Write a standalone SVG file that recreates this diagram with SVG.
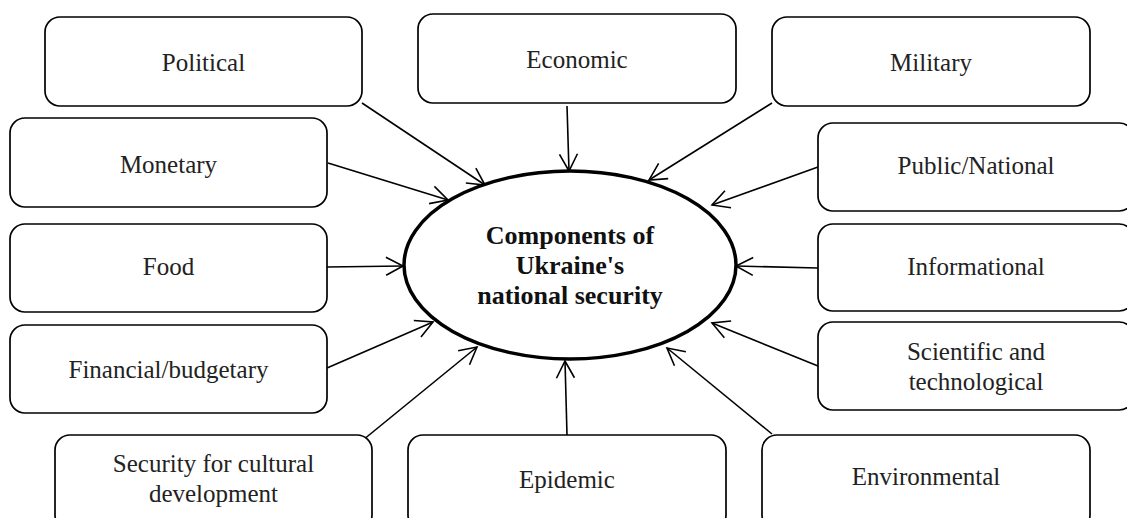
<svg xmlns="http://www.w3.org/2000/svg" width="1127" height="518" viewBox="0 0 1127 518">
<style>
.box{fill:#fff;stroke:#000;stroke-width:1.7}
.lbl{font-size:25px;fill:#222;text-anchor:middle}
.title{font-size:26px;font-weight:bold;fill:#111;text-anchor:middle}
.con{fill:none;stroke:#000;stroke-width:1.6;marker-end:url(#arr)}
</style>
<defs>
<marker id="arr" markerUnits="userSpaceOnUse" markerWidth="24" markerHeight="24" viewBox="-20 -12 24 24" refX="0" refY="0" orient="auto">
<path d="M-17,-9 L0,0 L-17,9" fill="none" stroke="#000" stroke-width="1.6"/>
</marker>
</defs>
<rect width="1127" height="518" fill="#fff"/>
<g id="connectors">
<line class="con" x1="362" y1="103" x2="485" y2="185"/>
<line class="con" x1="567" y1="106" x2="569" y2="171"/>
<line class="con" x1="772" y1="103" x2="649" y2="180"/>
<line class="con" x1="328" y1="163" x2="448" y2="200"/>
<line class="con" x1="818" y1="167" x2="712" y2="205"/>
<line class="con" x1="327" y1="267" x2="403" y2="266"/>
<line class="con" x1="818" y1="268" x2="736" y2="266"/>
<line class="con" x1="327" y1="368" x2="433" y2="322"/>
<line class="con" x1="818" y1="366" x2="712" y2="323"/>
<line class="con" x1="363" y1="440" x2="477" y2="347"/>
<line class="con" x1="567" y1="435" x2="565" y2="361"/>
<line class="con" x1="772" y1="434" x2="667" y2="348"/>
</g>
<g font-family="'Liberation Serif', 'DejaVu Serif', serif">
<g id="center">
<ellipse cx="570" cy="265" rx="166" ry="94" fill="#fff" stroke="#000" stroke-width="3.5"/>
<text class="title" x="570" y="244">Components of</text>
<text class="title" x="570" y="274">Ukraine's</text>
<text class="title" x="570" y="304">national security</text>
</g>
<g id="political"><rect class="box" x="45" y="17" width="317" height="89" rx="15"/><text class="lbl" x="203.5" y="71">Political</text></g>
<g id="economic"><rect class="box" x="418" y="14" width="318" height="89" rx="15"/><text class="lbl" x="577" y="68">Economic</text></g>
<g id="military"><rect class="box" x="772" y="17" width="318" height="89" rx="15"/><text class="lbl" x="931" y="71">Military</text></g>
<g id="monetary"><rect class="box" x="10" y="118" width="317" height="89" rx="15"/><text class="lbl" x="168.5" y="172.5">Monetary</text></g>
<g id="public"><rect class="box" x="818" y="123" width="316" height="88" rx="15"/><text class="lbl" x="976" y="173.5">Public/National</text></g>
<g id="food"><rect class="box" x="10" y="224" width="317" height="88" rx="15"/><text class="lbl" x="168.5" y="275">Food</text></g>
<g id="informational"><rect class="box" x="818" y="224" width="316" height="87" rx="15"/><text class="lbl" x="976" y="275">Informational</text></g>
<g id="financial"><rect class="box" x="10" y="325" width="317" height="88" rx="15"/><text class="lbl" x="168.5" y="377.5">Financial/budgetary</text></g>
<g id="scientific"><rect class="box" x="818" y="322" width="316" height="88" rx="15"/><text class="lbl" x="976" y="360">Scientific and</text><text class="lbl" x="976" y="390">technological</text></g>
<g id="cultural"><rect class="box" x="55" y="435" width="317" height="95" rx="15"/><text class="lbl" x="213.5" y="472">Security for cultural</text><text class="lbl" x="213.5" y="502">development</text></g>
<g id="epidemic"><rect class="box" x="408" y="435" width="318" height="95" rx="15"/><text class="lbl" x="567" y="487.5">Epidemic</text></g>
<g id="environmental"><rect class="box" x="762" y="435" width="328" height="95" rx="15"/><text class="lbl" x="926" y="485">Environmental</text></g>
</g>
</svg>
